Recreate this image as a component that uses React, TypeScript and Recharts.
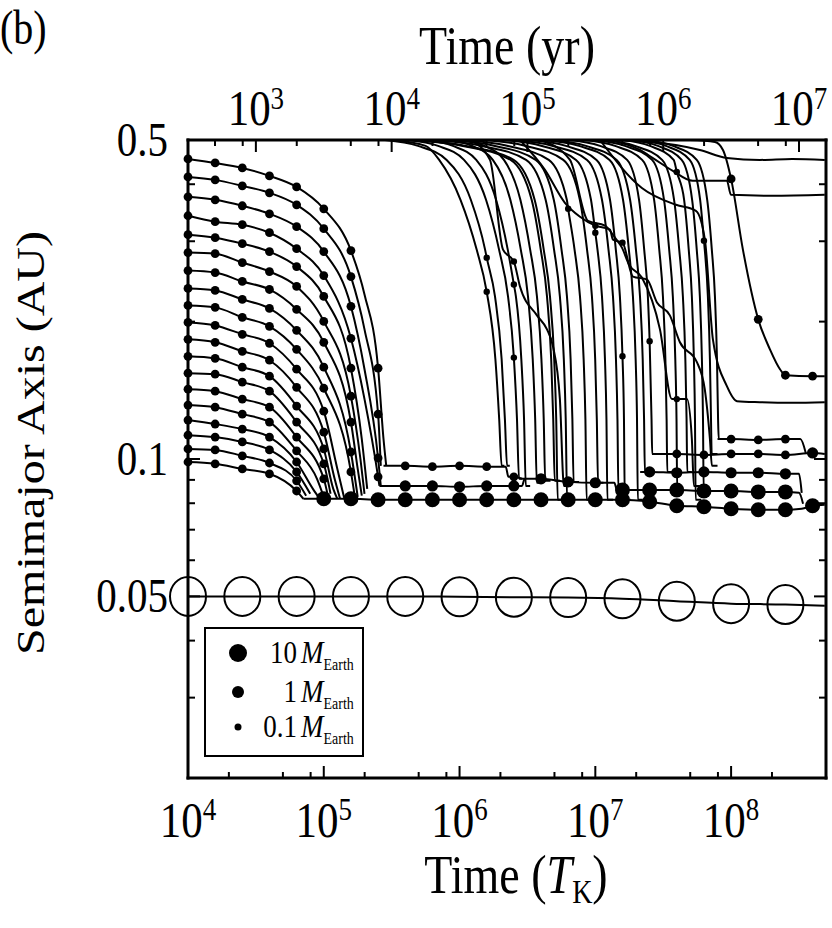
import React from 'react';
import { LineChart, Line, XAxis, YAxis } from 'recharts';

const SERIF = "'Liberation Serif', 'Times New Roman', serif";
const STRETCH = 1.2; // the original figure is drawn a bit taller than wide
const YR_TO_TK = 31.62; // T_K = orbital period at 0.1 AU = 10^-1.5 yr

// axis ticks
const X_MAJOR = [1e4, 1e5, 1e6, 1e7, 1e8];
const X_MINOR = [2e4, 5e4, 8e4, 2e5, 5e5, 8e5, 2e6, 5e6, 8e6, 2e7, 5e7, 8e7, 2e8];
const YR_MAJOR = [1e3, 1e4, 1e5, 1e6, 1e7];
const YR_MINOR = [5e2, 8e2, 2e3, 5e3, 8e3, 2e4, 5e4, 8e4, 2e5, 5e5, 8e5, 2e6, 5e6, 8e6];
const Y_LABELED = [0.05, 0.1, 0.5];
const Y_MINOR = [0.02, 0.03, 0.04, 0.06, 0.07, 0.08, 0.09, 0.2, 0.3, 0.4];

// points: [log10(time / T_K), semimajor axis (AU), marker class]
// marker class: 1 tiny, 2 small, 3 medium, 4 large, 9 open circle
type Pt = [number, number, number?];

// inner planetesimals migrating from the start
const INNER_TRACKS: Pt[][] = [
  [[4.0, .4545, 2], [4.2, .4454, 2], [4.4, .4343, 2], [4.6, .4172, 2], [4.8, .3946, 2], [5.0, .3534, 2], [5.2, .2862, 2], [5.3, .2293], [5.4, .1581, 2], [5.44, .1106], [5.46, .0966]],
  [[4.0, .4150, 2], [4.2, .4089, 2], [4.4, .3967, 2], [4.6, .3831, 2], [4.8, .3606, 2], [5.0, .3196, 2], [5.2, .2510, 2], [5.3, .1923], [5.4, .1254, 2], [5.42, .0966]],
  [[4.0, .3754, 2], [4.2, .3698, 2], [4.4, .3588, 2], [4.6, .3446, 2], [4.8, .3229, 2], [5.0, .2847, 2], [5.2, .2160, 2], [5.3, .1573], [5.4, .1005, 2], [5.42, .0873]],
  [[4.0, .3412, 2], [4.2, .3311, 2], [4.4, .3261, 2], [4.6, .3132, 2], [4.8, .2890, 2], [5.0, .2523, 2], [5.2, .1838, 2], [5.3, .1353], [5.4, .0914, 2], [5.41, .0873]],
  [[4.0, .3101, 2], [4.2, .3055, 2], [4.4, .2964, 2], [4.6, .2847, 2], [4.8, .2640, 2], [5.0, .2271, 2], [5.2, .1581, 2], [5.28, .1106], [5.32, .0860]],
  [[4.0, .2833, 2], [4.2, .2818, 2], [4.4, .2694, 2], [4.6, .2575, 2], [4.8, .2388, 2], [5.0, .2002, 2], [5.2, .1373, 2], [5.27, .1000], [5.3, .0839]],
  [[4.0, .2588, 2], [4.2, .2562, 2], [4.4, .2449, 2], [4.6, .2352, 2], [4.8, .2127, 2], [5.0, .1802, 2], [5.2, .1205, 2], [5.25, .0951], [5.28, .0831]],
  [[4.0, .2364, 2], [4.2, .2341, 2], [4.4, .2237, 2], [4.6, .2138, 2], [4.8, .1914, 2], [5.0, .1589, 2], [5.2, .1036, 2], [5.25, .0826]],
  [[4.0, .2170, 2], [4.2, .2149, 2], [4.4, .2044, 2], [4.6, .1953, 2], [4.8, .1739, 2], [5.0, .1429, 2], [5.2, .0937, 2], [5.23, .0822]],
  [[4.0, .1992, 2], [4.2, .1962, 2], [4.4, .1876, 2], [4.6, .1793, 2], [4.8, .1573, 2], [5.0, .1273, 2], [5.1, .0951], [5.15, .0822]],
  [[4.0, .1829, 2], [4.2, .1802, 2], [4.4, .1722, 2], [4.6, .1646, 2], [4.8, .1436, 2], [5.0, .1145, 2], [5.08, .0905], [5.12, .0818]],
  [[4.0, .1679, 2], [4.2, .1662, 2], [4.4, .1589, 2], [4.6, .1519, 2], [4.8, .1306, 2], [5.0, .1052, 2], [5.07, .0860], [5.1, .0818]],
  [[4.0, .1542, 2], [4.2, .1534, 2], [4.4, .1474, 2], [4.6, .1408, 2], [4.8, .1205, 2], [5.0, .0976, 2], [5.05, .0839]],
  [[4.0, .1422, 2], [4.2, .1408, 2], [4.4, .1353, 2], [4.6, .1299, 2], [4.8, .1117, 2], [5.0, .0905, 2], [5.03, .0831]],
  [[4.0, .1313, 2], [4.2, .1299, 2], [4.4, .1254, 2], [4.6, .1205, 2], [4.8, .1042, 2], [4.95, .0905], [5.0, .0826]],
  [[4.0, .1217, 2], [4.2, .1193, 2], [4.4, .1163, 2], [4.6, .1117, 2], [4.8, .0985, 2], [4.92, .0860], [4.97, .0818]],
  [[4.0, .1128, 2], [4.2, .1117, 2], [4.4, .1090, 2], [4.6, .1047, 2], [4.8, .0937, 2], [4.9, .0839]],
  [[4.0, .1052, 2], [4.2, .1047, 2], [4.4, .1016, 2], [4.6, .0980, 2], [4.8, .0896, 2], [4.87, .0831]],
  [[4.0, .0985, 2], [4.2, .0976, 2], [4.4, .0951, 2], [4.6, .0928, 2], [4.8, .0851, 2], [4.85, .0818]],
];

// outer planetesimals falling in from beyond 0.5 AU
const OUTER_TRACKS: Pt[][] = [
  [[5.451, .5], [5.694, .4853], [5.905, .4522], [6.083, .3698], [6.188, .2876], [6.2, .2762, 1], [6.261, .2271], [6.310, .1654], [6.334, .1223], [6.350, .0966], [6.37, .0966]],
  [[5.621, .5], [5.842, .4853], [6.033, .4522], [6.195, .3698], [6.291, .2876], [6.357, .2271], [6.4, .1668, 1], [6.423, .1223], [6.438, .0905], [6.48, .0905]],
  [[5.752, .5], [5.951, .4853], [6.123, .4522], [6.269, .3698], [6.355, .2876], [6.4, .2412, 1], [6.415, .2271], [6.455, .1654], [6.475, .1223], [6.488, .0873], [6.52, .0873]],
  [[5.915, .5], [6.092, .4853], [6.245, .4522], [6.374, .3698], [6.451, .2876], [6.504, .2271], [6.539, .1654], [6.557, .1223], [6.569, .0887], [6.61, .0887]],
  [[6.018, .5], [6.183, .4853], [6.327, .4522], [6.448, .3698], [6.520, .2876], [6.570, .2271], [6.603, .1654], [6.620, .1223], [6.631, .0896], [6.67, .0896]],
  [[5.635, .5], [6.047, .4853], [6.398, .4522], [6.553, .3698], [6.620, .2876], [6.666, .2271], [6.697, .1654], [6.712, .1223], [6.723, .0814], [6.76, .0814]],
  [[5.782, .5], [6.165, .4853], [6.490, .4522], [6.634, .3698], [6.696, .2876], [6.739, .2271], [6.768, .1654], [6.782, .1223], [6.792, .0814], [6.83, .0814]],
  [[5.907, .5], [6.261, .4853], [6.561, .4522], [6.694, .3698], [6.751, .2876], [6.791, .2271], [6.818, .1654], [6.831, .1223], [6.840, .0891], [6.88, .0891]],
  [[6.003, .5], [6.357, .4853], [6.657, .4522], [6.790, .3698], [6.8, .3534, 1], [6.847, .2876], [6.887, .2271], [6.914, .1654], [6.927, .1223], [6.936, .0814], [6.97, .0814]],
  [[6.165, .5], [6.489, .4853], [6.764, .4522], [6.886, .3698], [6.939, .2876], [6.975, .2271], [6.999, .1654], [7.011, .1223], [7.020, .0887], [7.06, .0887]],
  [[6.313, .5], [6.607, .4853], [6.858, .4522], [6.968, .3698], [7.0, .3132, 1], [7.016, .2876], [7.049, .2271], [7.071, .1654], [7.082, .1223], [7.089, .0814], [7.13, .0814]],
  [[6.394, .5], [6.688, .4853], [6.939, .4522], [7.049, .3698], [7.097, .2876], [7.130, .2271], [7.152, .1654], [7.163, .1223], [7.170, .0855], [7.21, .0855]],
  [[6.518, .5], [6.783, .4853], [7.009, .4522], [7.108, .3698], [7.151, .2876], [7.181, .2271], [7.2, .1679, 1], [7.211, .1223], [7.217, .0814], [7.26, .0814]],
  [[6.666, .5], [6.931, .4853], [7.157, .4522], [7.256, .3698], [7.299, .2876], [7.329, .2271], [7.349, .1654], [7.359, .1223], [7.365, .0937], [7.40, .0937]],
  [[6.798, .5], [7.034, .4853], [7.234, .4522], [7.322, .3698], [7.360, .2876], [7.387, .2271], [7.4, .1811, 1], [7.414, .1223], [7.419, .1026], [7.45, .1026]],
  [[6.982, .5], [7.218, .4853], [7.418, .4522], [7.506, .3698], [7.544, .2876], [7.571, .2271], [7.589, .1654], [7.598, .1223], [7.603, .0855], [7.64, .0855]],
  [[7.056, .5], [7.292, .4853], [7.492, .4522], [7.580, .3698], [7.618, .2876], [7.645, .2271], [7.663, .1654], [7.672, .1223], [7.677, .0937], [7.71, .0937]],
  [[7.196, .5], [7.402, .4853], [7.577, .4522], [7.6, .4257, 1], [7.654, .3698], [7.688, .2876], [7.711, .2271], [7.726, .1654], [7.734, .1223], [7.739, .0814], [7.78, .0814]],
  [[7.255, .5], [7.461, .4853], [7.636, .4522], [7.713, .3698], [7.747, .2876], [7.770, .2271], [7.785, .1654], [7.793, .1223], [7.798, .0851], [7.84, .0851]],
  [[7.366, .5], [7.572, .4853], [7.747, .4522], [7.824, .3698], [7.858, .2876], [7.881, .2271], [7.896, .1654], [7.904, .1223], [7.909, .1106], [7.95, .1106]],
  [[5.5, .5], [5.75, .4853], [5.85, .4522], [6.007, .3698], [6.126, .2876], [6.2, .2325, 1], [6.264, .1654], [6.292, .1223], [6.310, .0966], [6.33, .0966]],
  [[5.613, .5], [6.025, .4853], [6.376, .4522], [6.531, .3698], [6.598, .2876], [6.644, .2271], [6.675, .1654], [6.690, .1223], [6.701, .0896], [6.74, .0896]],
  [[6.614, .5], [6.879, .4853], [7.105, .4522], [7.204, .3698], [7.247, .2876], [7.277, .2271], [7.297, .1654], [7.307, .1223], [7.313, .0814], [7.35, .0814]],
  [[6.909, .5], [7.145, .4853], [7.345, .4522], [7.433, .3698], [7.471, .2876], [7.498, .2271], [7.516, .1654], [7.525, .1223], [7.530, .0937], [7.57, .0937]],
  [[7.314, .5], [7.520, .4853], [7.695, .4522], [7.772, .3698], [7.8, .3009, 1], [7.806, .2876], [7.829, .2271], [7.844, .1654], [7.852, .1223], [7.857, .1026], [7.90, .1026]],
];

// slower, stepwise migrators
const DRIFT_TRACKS: Pt[][] = [
  [[6.077, .5], [6.224, .4522], [6.320, .2876], [6.4, .2708, 1], [6.445, .2388], [6.570, .2064], [6.644, .1923], [6.688, .1766], [6.739, .1353], [6.769, .0873], [6.82, .0873]],
  [[6.445, .5], [6.629, .4300], [6.776, .3643], [6.887, .3395], [7.0, .3245, 1], [7.108, .3180], [7.130, .3024], [7.2, .2979, 1], [7.277, .2510], [7.380, .2473], [7.454, .2203], [7.549, .2064], [7.623, .1802], [7.748, .1630], [7.806, .1422], [7.844, .1106], [7.859, .0966], [7.9, .0966]],
  [[6.592, .5], [6.813, .4522], [6.946, .3327], [7.071, .3245], [7.145, .3055], [7.196, .2905], [7.248, .2667], [7.343, .2498], [7.476, .1923], [7.564, .1353], [7.6, .1353, 1], [7.675, .1353], [7.711, .1106], [7.726, .0873], [7.77, .0873]],
  [[7.034, .5], [7.343, .3926], [7.594, .3606], [7.741, .3498], [7.807, .3024], [7.866, .1829], [7.969, .1444], [8.043, .1339], [8.212, .1332], [8.45, .1328], [8.69, .1332]],
  [[7.697, .5], [7.881, .4950], [7.940, .4755], [8.0, .4109, 2], [8.087, .2876], [8.2, .2023, 2], [8.286, .1739], [8.36, .1573], [8.4, .1526, 2], [8.6, .1519, 2], [8.69, .1519]],
  [[7.034, .5], [7.402, .4950], [7.770, .4755], [7.969, .4565], [8.212, .4522], [8.45, .4545], [8.69, .4522]],
  [[7.108, .5], [7.329, .4755], [7.424, .4565], [7.571, .4278], [7.718, .4069], [7.969, .4069], [7.999, .3792], [8.3, .3774], [8.69, .3792]],
];

// accumulated bodies near 0.08-0.11 AU
const BAND_A: Pt[] = [[5.44, .0966], [5.6, .0966, 2], [5.8, .0962, 2], [6.0, .0966, 2], [6.2, .0962, 2], [6.34, .0962], [6.36, .0914], [6.4, .0914, 2], [6.46, .0905]];
const BAND_B: Pt[] = [[5.41, .0873], [5.6, .0873, 3], [5.8, .0873, 3], [6.0, .0869, 3], [6.2, .0873, 3], [6.4, .0873, 3], [6.46, .0873], [6.48, .0905], [6.6, .0905, 3], [6.8, .0891, 3], [7.0, .0887, 3], [7.14, .0887], [7.16, .0855], [7.2, .0855, 4], [7.4, .0855, 4], [7.6, .0855, 4], [7.8, .0851, 4], [8.0, .0851, 4], [8.2, .0847, 4], [8.4, .0847, 4], [8.5, .0843], [8.53, .0798]];
const BAND_C: Pt[] = [[4.85, .0818], [5.0, .0818, 4], [5.2, .0818, 4], [5.4, .0814, 4], [5.6, .0814, 4], [5.8, .0814, 4], [6.0, .0814, 4], [6.2, .0814, 4], [6.4, .0814, 4], [6.6, .0814, 4], [6.8, .0814, 4], [7.0, .0814, 4], [7.2, .0814, 4], [7.4, .0806, 4], [7.6, .0790, 4], [7.8, .0786, 4], [8.0, .0778, 4], [8.2, .0774, 4], [8.4, .0774, 4], [8.52, .0778], [8.6, .0790, 4], [8.69, .0794]];
const ROW_D: Pt[] = [[7.33, .0937], [7.4, .0937, 3], [7.6, .0933, 3], [7.8, .0937, 3], [8.0, .0933, 3], [8.2, .0933, 3], [8.4, .0928, 3], [8.5, .0928], [8.52, .0843]];
const ROW_E: Pt[] = [[7.42, .1026], [7.6, .1026, 2], [7.8, .1021, 2], [8.0, .1026, 2], [8.2, .1026, 2], [8.4, .1021, 2], [8.6, .1031, 3], [8.69, .1026]];
const ROW_F: Pt[] = [[7.9, .1106], [8.0, .1106, 2], [8.2, .1101, 2], [8.4, .1106, 2], [8.51, .1106], [8.55, .1031]];

// the giant planet at 0.05 AU
const GIANT_TRACK: Pt[] = [[4.0, .05, 9], [4.4, .05, 9], [4.8, .05, 9], [5.2, .05, 9], [5.6, .05, 9], [6.0, .0499, 9], [6.4, .0498, 9], [6.8, .0497, 9], [7.2, .0494, 9], [7.6, .0488, 9], [8.0, .0482, 9], [8.4, .0480, 9], [8.69, .0477]];

const LEGEND_LABELS = ['10', '1', '0.1'];
const LEGEND_R = [9, 6, 3.5];

const DOT_R = [0, 3.2, 4.4, 5.6, 7.5];

const toPts = (arr: Pt[]) => arr.map(([lt, a, m]) => ({ t: Math.pow(10, lt), a, m: m || 0 }));

function renderDot(p: any) {
  const m = p.payload ? p.payload.m : 0;
  const k = `d-${p.index}-${Math.round(p.cx)}-${Math.round(p.cy)}`;
  if (!m) return <g key={k} />;
  if (m === 9) {
    return <ellipse key={k} cx={p.cx} cy={p.cy} rx={18} ry={19.5} fill="none" stroke="#000" strokeWidth={2} />;
  }
  return <circle key={k} cx={p.cx} cy={p.cy} r={DOT_R[m]} fill="#000" />;
}

const STxt = ({ x, y, size, anchor = 'start', children }: any) => (
  <text transform={`translate(${x},${y}) scale(1,${STRETCH})`} fontSize={size} textAnchor={anchor} fontFamily={SERIF} fill="#000">
    {children}
  </text>
);

// tick renderers get the axis-line position (tickSize and tickMargin are 0) and draw inward ticks
const BottomTick = ({ x, y, payload }: any) => {
  const v = payload.value;
  const major = X_MAJOR.includes(v);
  return (
    <g>
      <line x1={x} y1={y} x2={x} y2={y - (major ? 12 : 6)} stroke="#000" strokeWidth={2} />
      {major && (
        <STxt x={x} y={y + 59} size={43} anchor="middle">
          10<tspan fontSize={27} dy={-14}>{Math.round(Math.log10(v))}</tspan>
        </STxt>
      )}
    </g>
  );
};

const TopTick = ({ x, y, payload }: any) => {
  const e = Math.log10(payload.value / YR_TO_TK);
  const major = Math.abs(e - Math.round(e)) < 1e-3;
  return (
    <g>
      <line x1={x} y1={y} x2={x} y2={y + (major ? 12 : 6)} stroke="#000" strokeWidth={2} />
      {major && (
        <STxt x={x} y={y - 15} size={43} anchor="middle">
          10<tspan fontSize={27} dy={-13}>{Math.round(e)}</tspan>
        </STxt>
      )}
    </g>
  );
};

const LeftTick = ({ x, y, payload }: any) => {
  const v = payload.value;
  const lab = Y_LABELED.includes(v);
  return (
    <g>
      <line x1={x} y1={y} x2={x + (lab ? 12 : 7)} y2={y} stroke="#000" strokeWidth={2} />
      {lab && (
        <STxt x={x - 20} y={y + 16} size={41} anchor="end">
          {String(v)}
        </STxt>
      )}
    </g>
  );
};

const RightTick = ({ x, y, payload }: any) => {
  const lab = Y_LABELED.includes(payload.value);
  return <line x1={x} y1={y} x2={x - (lab ? 12 : 7)} y2={y} stroke="#000" strokeWidth={2} />;
};

const axisLine = { stroke: '#000', strokeWidth: 3, strokeLinecap: 'square' as const };

export default function App() {
  const tracks = [...INNER_TRACKS, ...OUTER_TRACKS, ...DRIFT_TRACKS, BAND_A, BAND_B, BAND_C, ROW_D, ROW_E, ROW_F];
  const giant = toPts(GIANT_TRACK);
  return (
    <div style={{ position: 'absolute', left: 0, top: 0, width: 832, height: 928, background: '#fff' }}>
      <LineChart width={832} height={928} margin={{ top: 110, right: 0, bottom: 120, left: 158 }}>
        <XAxis xAxisId="b" dataKey="t" type="number" scale="log" domain={[1e4, 5e8]}
          ticks={[...X_MAJOR, ...X_MINOR]} interval={0} height={30}
          tickLine={false} tickSize={0} tickMargin={0} tick={BottomTick} axisLine={axisLine} />
        <XAxis xAxisId="t" orientation="top" dataKey="t" type="number" scale="log" domain={[1e4, 5e8]}
          ticks={[...YR_MAJOR, ...YR_MINOR].map((v) => v * YR_TO_TK)} interval={0} height={30}
          tickLine={false} tickSize={0} tickMargin={0} tick={TopTick} axisLine={axisLine} />
        <YAxis yAxisId="l" type="number" scale="log" domain={[0.02, 0.5]}
          ticks={[...Y_MINOR, ...Y_LABELED]} interval={0} width={30}
          tickLine={false} tickSize={0} tickMargin={0} tick={LeftTick} axisLine={axisLine} />
        <YAxis yAxisId="r" orientation="right" type="number" scale="log" domain={[0.02, 0.5]}
          ticks={[...Y_MINOR, ...Y_LABELED]} interval={0} width={6}
          tickLine={false} tickSize={0} tickMargin={0} tick={RightTick} axisLine={axisLine} />
        <Line xAxisId="t" yAxisId="r" data={giant} dataKey="a" stroke="none" dot={false}
          activeDot={false} isAnimationActive={false} />
        {tracks.map((tr, i) => (
          <Line key={`tr-${i}`} xAxisId="b" yAxisId="l" data={toPts(tr)} dataKey="a" type="monotone"
            stroke="#000" strokeWidth={2} dot={renderDot} activeDot={false} isAnimationActive={false} />
        ))}
        <Line xAxisId="b" yAxisId="l" data={giant} dataKey="a" type="monotone" stroke="#000"
          strokeWidth={2} dot={renderDot} activeDot={false} isAnimationActive={false} />
      </LineChart>
      <svg width={832} height={928} style={{ position: 'absolute', left: 0, top: 0, pointerEvents: 'none' }}>
        <STxt x={0} y={44} size={40}>(b)</STxt>
        <STxt x={507} y={64} size={46} anchor="middle">Time (yr)</STxt>
        <STxt x={516} y={893} size={46} anchor="middle">
          Time (<tspan fontStyle="italic">T</tspan><tspan fontSize={28} dy={8}>K</tspan><tspan dy={-8}>)</tspan>
        </STxt>
        <text transform={`translate(44,443) rotate(-90) scale(${STRETCH},1)`} fontSize={40}
          textAnchor="middle" fontFamily={SERIF} fill="#000">Semimajor Axis (AU)</text>
        <rect x={205} y={628} width={158} height={128} fill="#fff" stroke="#000" strokeWidth={2} />
        {LEGEND_LABELS.map((lab, i) => {
          const cy = [653, 692, 727][i];
          return (
            <g key={lab}>
              <circle cx={238} cy={cy} r={LEGEND_R[i]} fill="#000" />
              <STxt x={297} y={cy + 10} size={27} anchor="end">{lab}</STxt>
              <STxt x={301} y={cy + 10} size={27}>
                <tspan fontStyle="italic">M</tspan><tspan fontSize={14} dy={6}>Earth</tspan>
              </STxt>
            </g>
          );
        })}
      </svg>
    </div>
  );
}
